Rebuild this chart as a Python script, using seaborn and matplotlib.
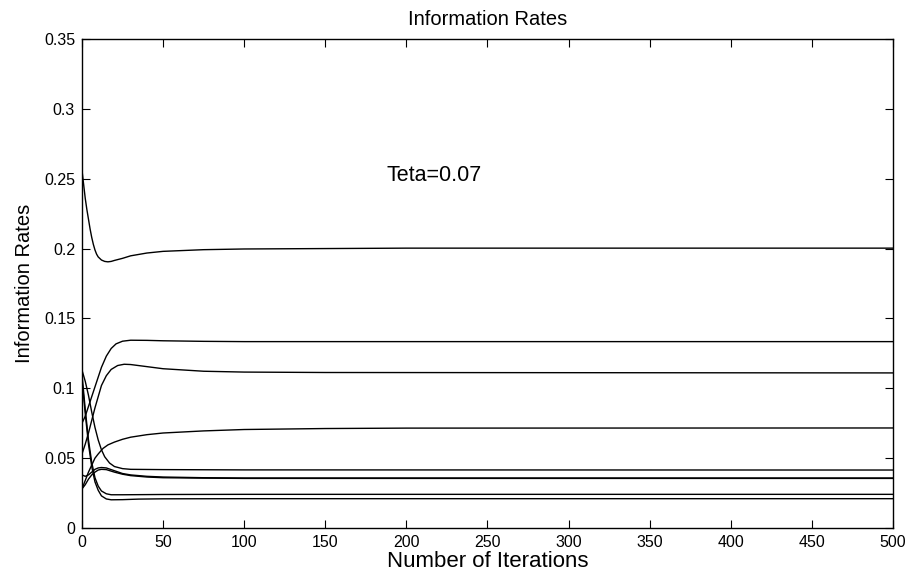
import matplotlib
matplotlib.use("Agg")
import matplotlib.pyplot as plt
import seaborn as sns
import pandas as pd

# ---- data ----
it_A = [0, 1, 2, 3, 4, 5, 6, 7, 8, 9, 10, 12, 14, 16, 18, 20, 25, 30, 40, 50, 75, 100, 150, 200, 300, 500]
rate_A = [0.256, 0.246, 0.236, 0.228, 0.221, 0.214, 0.208, 0.203, 0.199, 0.196, 0.194, 0.1918,
          0.1908, 0.1905, 0.1908, 0.1915, 0.193, 0.1948, 0.1968, 0.198, 0.1992, 0.1997, 0.2,
          0.2003, 0.2003, 0.2003]

it_B = [0, 2, 4, 6, 8, 10, 12, 15, 18, 21, 25, 30, 40, 50, 75, 100, 500]
rate_B = [0.075, 0.080, 0.087, 0.094, 0.101, 0.108, 0.115, 0.123, 0.1285, 0.1318, 0.1337, 0.1344,
          0.1343, 0.134, 0.1336, 0.1334, 0.1334]

it_C = [0, 2, 4, 6, 8, 10, 12, 15, 18, 22, 26, 30, 40, 50, 75, 100, 150, 500]
rate_C = [0.053, 0.060, 0.068, 0.077, 0.086, 0.094, 0.102, 0.109, 0.1135, 0.1163, 0.1172, 0.117,
          0.1155, 0.114, 0.1122, 0.1116, 0.1113, 0.111]

it_D = [0, 2, 4, 6, 8, 10, 13, 16, 20, 25, 30, 40, 50, 75, 100, 150, 200, 500]
rate_D = [0.028, 0.034, 0.040, 0.045, 0.050, 0.053, 0.057, 0.0595, 0.0615, 0.0635, 0.065, 0.0668,
          0.068, 0.0695, 0.0705, 0.0712, 0.0715, 0.0716]

it_E = [0, 2, 4, 6, 8, 10, 12, 14, 17, 20, 25, 30, 50, 100, 500]
rate_E = [0.113, 0.105, 0.095, 0.083, 0.072, 0.063, 0.056, 0.051, 0.0465, 0.044, 0.0425, 0.042,
          0.0418, 0.0416, 0.0415]

it_F = [0, 2, 4, 6, 8, 10, 12, 15, 18, 25, 50, 100, 500]
rate_F = [0.110, 0.085, 0.063, 0.047, 0.036, 0.030, 0.0265, 0.0245, 0.0238, 0.0238, 0.0240, 0.0241, 0.0241]

it_G = [0, 2, 4, 6, 8, 10, 12, 15, 18, 25, 35, 50, 100, 500]
rate_G = [0.106, 0.082, 0.060, 0.044, 0.033, 0.027, 0.023, 0.0208, 0.0202, 0.0203, 0.0207, 0.0209, 0.021, 0.021]

it_H1 = [0, 2, 4, 6, 8, 10, 12, 15, 20, 25, 30, 40, 50, 75, 100, 500]
rate_H1 = [0.038, 0.037, 0.038, 0.040, 0.042, 0.043, 0.0433, 0.043, 0.041, 0.039, 0.038, 0.037,
           0.0365, 0.036, 0.0358, 0.0358]

it_H2 = [0, 2, 4, 6, 8, 10, 12, 15, 20, 25, 30, 40, 50, 75, 100, 500]
rate_H2 = [0.028, 0.031, 0.035, 0.038, 0.040, 0.0415, 0.042, 0.0418, 0.040, 0.0385, 0.0375, 0.0365,
           0.036, 0.0357, 0.0355, 0.0355]

series = {
    "A": (it_A, rate_A), "B": (it_B, rate_B), "C": (it_C, rate_C), "D": (it_D, rate_D),
    "E": (it_E, rate_E), "F": (it_F, rate_F), "G": (it_G, rate_G),
    "H1": (it_H1, rate_H1), "H2": (it_H2, rate_H2),
}

x_ticks = [0, 50, 100, 150, 200, 250, 300, 350, 400, 450, 500]
y_ticks = [0, 0.05, 0.1, 0.15, 0.2, 0.25, 0.3, 0.35]
y_tick_labels = ["0", "0.05", "0.1", "0.15", "0.2", "0.25", "0.3", "0.35"]

rows = []
for name, (xs, ys) in series.items():
    for x, y in zip(xs, ys):
        rows.append({"user": name, "iteration": x, "rate": y})
df = pd.DataFrame(rows)

sns.set_style("ticks")
plt.rcParams["font.family"] = ["Liberation Sans", "DejaVu Sans"]
plt.rcParams["text.color"] = "black"
plt.rcParams["axes.labelcolor"] = "black"

fig = plt.figure(figsize=(9.12, 5.73), dpi=100)
ax = fig.add_axes([0.0899, 0.0785, 0.8892, 0.8535])

sns.lineplot(data=df, x="iteration", y="rate", units="user", estimator=None,
             color="black", linewidth=1.0, ax=ax, sort=True)

ax.set_xlim(0, 500)
ax.set_ylim(0, 0.35)
ax.set_xticks(x_ticks)
ax.set_xticklabels([str(t) for t in x_ticks])
ax.set_yticks(y_ticks)
ax.set_yticklabels(y_tick_labels)
ax.tick_params(direction="in", top=True, right=True, length=6, width=0.8,
               labelsize=11.5, colors="black", pad=5)
for s in ax.spines.values():
    s.set_visible(True)
    s.set_color("black")
    s.set_linewidth(1.0)

ax.set_title("Information Rates", fontsize=14.5, pad=10, color="black")
ax.set_xlabel("Number of Iterations", fontsize=16, labelpad=1, color="black")
ax.set_ylabel("Information Rates", fontsize=14.5, labelpad=7, color="black")
ax.text(188, 0.2525, "Teta=0.07", fontsize=15.5, va="center", ha="left", color="black")

fig.savefig("out.png", dpi=100)
